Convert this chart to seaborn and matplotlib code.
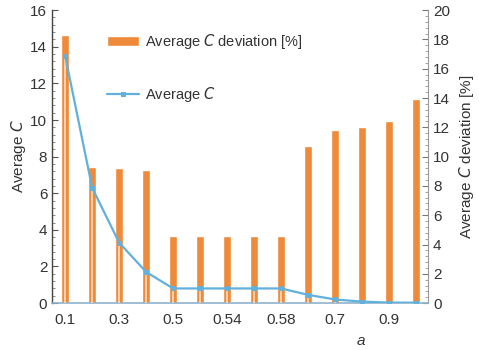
import numpy as np
import pandas as pd
import matplotlib
matplotlib.use("Agg")
import matplotlib.pyplot as plt
import seaborn as sns
from matplotlib.ticker import MultipleLocator

sns.set_theme(style="white")
plt.rcParams["font.family"] = ["Liberation Sans", "DejaVu Sans"]

# data
a_values = ["0.1", "0.2", "0.3", "0.4", "0.5", "0.52", "0.54", "0.56", "0.58",
            "0.6", "0.7", "0.8", "0.9", "1.0"]
avg_c = [13.5, 6.3, 3.3, 1.7, 0.8, 0.8, 0.8, 0.8, 0.8, 0.45, 0.2, 0.08, 0.03, 0.02]
avg_c_dev = [18.3, 9.3, 9.25, 9.1, 4.6, 4.6, 4.6, 4.6, 4.6, 10.7, 11.8, 12.0, 12.4, 13.9]
shown_ticks = ["0.1", "0.3", "0.5", "0.54", "0.58", "0.7", "0.9"]

df = pd.DataFrame({"a": a_values, "avg_c": avg_c, "dev": avg_c_dev})
df["pos"] = np.arange(len(df))

orange = "#ef8a3a"
blue = "#62b0dc"
text_col = "#333333"

fig = plt.figure(figsize=(4.79, 3.5), dpi=100)
ax = fig.add_axes([0.109, 0.134, 0.785, 0.837])
ax2 = ax.twinx()

# bars on the right axis
sns.barplot(data=df, x="a", y="dev", color=orange, width=0.32, saturation=1,
            ax=ax2, zorder=1, label="Average $\\mathit{C}$ deviation [%]")

# light drop lines through the bars, then the line on the left axis
ax.vlines(df["pos"], 0, df["avg_c"], colors="#f9d2b0", linewidth=1.4, zorder=3)
sns.lineplot(data=df, x="pos", y="avg_c", color=blue, marker="s", markersize=3.5,
             markeredgecolor=blue, linewidth=1.6, ax=ax, zorder=4,
             label="Average $\\mathit{C}$")

ax.set_zorder(ax2.get_zorder() + 1)
ax.patch.set_visible(False)

ax.set_ylim(0, 16)
ax2.set_ylim(0, 20)

ax.yaxis.set_major_locator(MultipleLocator(2))
ax.yaxis.set_minor_locator(MultipleLocator(0.4))
ax2.yaxis.set_major_locator(MultipleLocator(2))
ax2.yaxis.set_minor_locator(MultipleLocator(0.4))

ax.tick_params(axis="y", which="major", direction="in", length=4, width=0.8,
               labelsize=11, colors="#555555", labelcolor=text_col, left=True)
ax.tick_params(axis="y", which="minor", direction="in", length=2, width=0.6,
               colors="#777777", left=True)
ax2.tick_params(axis="y", which="major", direction="in", length=4, width=0.8,
                labelsize=11, colors="#777777", labelcolor=text_col, right=True)
ax2.tick_params(axis="y", which="minor", direction="in", length=2, width=0.6,
                colors="#999999", right=True)

for a_ in (ax, ax2):
    a_.spines["top"].set_visible(False)
ax.spines["left"].set_color("#444444")
ax.spines["left"].set_linewidth(1.0)
ax.spines["bottom"].set_color("#8fb3cc")
ax.spines["bottom"].set_linewidth(1.2)
ax.spines["right"].set_visible(False)
ax2.spines["left"].set_visible(False)
ax2.spines["bottom"].set_visible(False)
ax2.spines["right"].set_color("#999999")
ax2.spines["right"].set_linewidth(0.8)

ax.set_ylabel("Average $\\mathit{C}$", fontsize=11, color=text_col, labelpad=2)
ax2.set_ylabel("Average $\\mathit{C}$ deviation [%]", fontsize=11, color=text_col,
               labelpad=5)
ax.set_xlabel("")
ax2.set_xlabel("")
ax.text(0.82, -0.13, "a", transform=ax.transAxes, fontsize=11, style="italic",
        color=text_col, ha="center", va="center")

# x ticks last (twin axes share the x axis)
ax.set_xlim(-0.48, 13.45)
ax.set_xticks([a_values.index(t) for t in shown_ticks])
ax.set_xticklabels(shown_ticks)
ax.tick_params(axis="x", length=0, labelsize=11, labelcolor=text_col, pad=7,
               labelbottom=True)

# combined legend
h1, l1 = ax2.get_legend_handles_labels()
h2, l2 = ax.get_legend_handles_labels()
if ax2.get_legend():
    ax2.get_legend().remove()
leg = ax.legend(h1 + h2, l1 + l2, loc="upper left", bbox_to_anchor=(0.11, 0.97),
                frameon=False, fontsize=10.5, labelspacing=2.3, handlelength=2.2,
                handleheight=0.6, handletextpad=0.4)
for t in leg.get_texts():
    t.set_color(text_col)

fig.savefig("out.png", dpi=100)
